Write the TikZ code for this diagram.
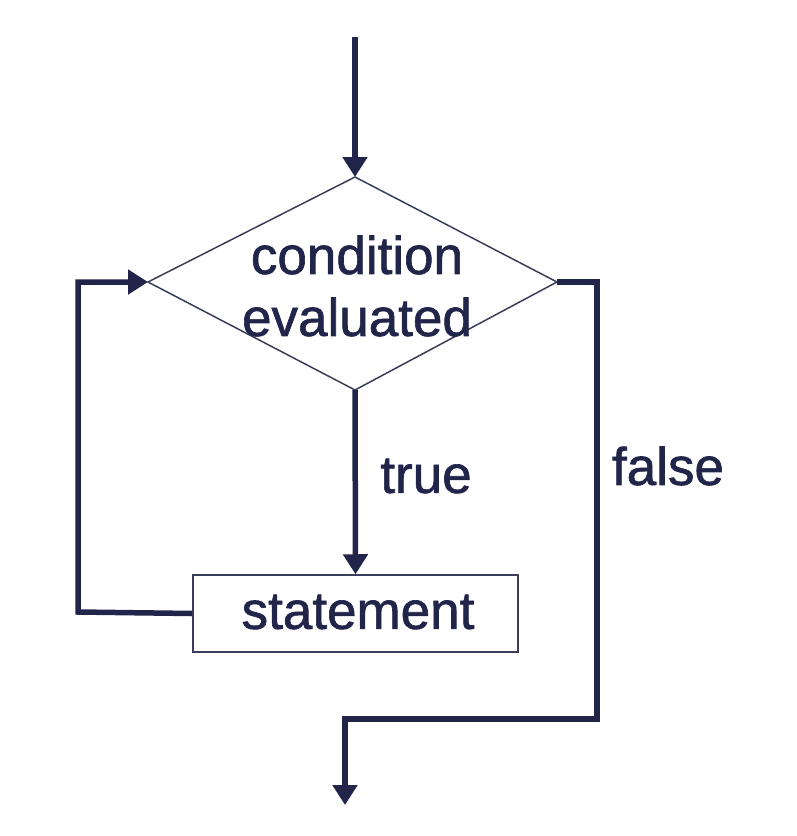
\documentclass[tikz,border=0pt]{standalone}
\usepackage{fontspec}
\setmainfont{Liberation Sans}
\newfontfamily\lblfont[FakeBold=1.2]{Liberation Sans}
\usetikzlibrary{shapes.geometric,arrows.meta}
\definecolor{navy}{HTML}{22254A}
\definecolor{outl}{HTML}{3A3D5A}
\begin{document}
\begin{tikzpicture}[x=1pt,y=-1pt,
  flow/.style={draw=navy,line width=5.5pt},
  tip/.style={-{Triangle[length=20pt,width=24pt]}},
  lbl/.style={text=navy,font=\lblfont\fontsize{53}{62}\selectfont,inner sep=0pt},
  shapeline/.style={draw=outl,line width=1.5pt}]
\useasboundingbox (0,0) rectangle (796,836);
\coordinate (start) at (355,37);
\coordinate (dtop) at (355,177);
\coordinate (dleft) at (148,282);
\coordinate (dright) at (557,282);
\coordinate (dbot) at (355,390);
\draw[shapeline] (dtop) -- (dright) -- (dbot) -- (dleft) -- cycle;
\node[lbl,align=center] (cond) at (357,286) {condition\\evaluated};
\node[shapeline,minimum width=325pt,minimum height=77pt,inner sep=0pt] (stmt) at (355.5,613.5) {};
\node[lbl] (stext) at (358,612) {statement};
\node[lbl] (true) at (426,476) {true};
\node[lbl] (false) at (668,466) {false};
\coordinate (fr) at (597,282);
\coordinate (fb) at (597,719);
\coordinate (fl) at (345,719);
\coordinate (endp) at (345,805);
\coordinate (ll) at (78,612);
\coordinate (lt) at (78,282);
\draw[flow,tip] (start) -- (dtop);
\draw[flow,tip] (dbot) -- (stmt.north);
\draw[flow,tip] (stmt.west) -- (ll) -- (lt) -- (dleft);
\draw[flow,tip] (dright) -- (fr) -- (fb) -- (fl) -- (endp);
\end{tikzpicture}
\end{document}
